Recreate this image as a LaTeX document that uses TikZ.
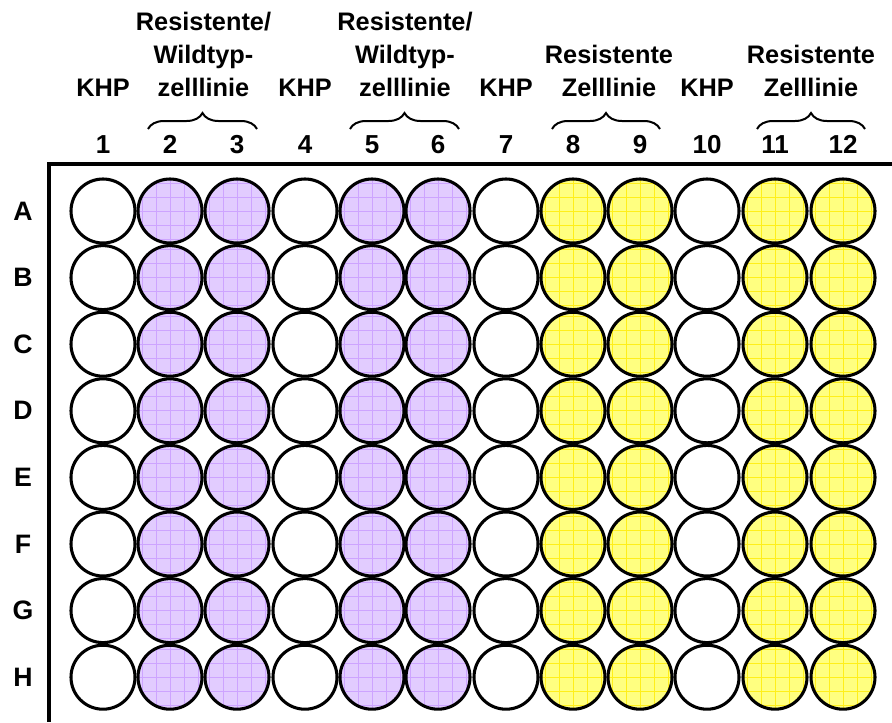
\documentclass[tikz,border=0pt]{standalone}
\usepackage{fontspec}
\setmainfont{Liberation Sans}
\usepackage{xcolor}
\usetikzlibrary{decorations.pathreplacing, positioning}

\definecolor{wellpurple}{HTML}{E2CCFF}
\definecolor{gridpurple}{HTML}{CDA4FF}
\definecolor{wellyellow}{HTML}{FFFF80}
\definecolor{gridyellow}{HTML}{FFEF1A}

\begin{document}
\begin{tikzpicture}[
    x = 0.75pt, y = -0.75pt,
    well/.style  = {circle, draw=black, line width=2.3pt, minimum size=48pt,
                    inner sep=0pt, fill=white},
    pwell/.style = {well, fill=wellpurple,
                    path picture={\draw[gridpurple, line width=0.6pt]
                      (path picture bounding box.south west) grid[step=10.5pt]
                      (path picture bounding box.north east);}},
    ywell/.style = {well, fill=wellyellow,
                    path picture={\draw[gridyellow, line width=0.6pt]
                      (path picture bounding box.south west) grid[step=10.5pt]
                      (path picture bounding box.north east);}},
    hdr/.style   = {font=\fontsize{19}{24.6}\selectfont\bfseries,
                    align=center, inner sep=0pt, anchor=south},
    num/.style   = {font=\fontsize{19.5}{19.5}\selectfont\bfseries,
                    inner sep=0pt, anchor=base},
    rowl/.style  = {font=\fontsize{20}{20}\selectfont\bfseries,
                    inner sep=0pt, anchor=base},
    plate/.style = {line width=2.3pt},
    brc/.style   = {decorate, decoration={brace, amplitude=12pt},
                    line width=1.5pt}
  ]
  \useasboundingbox (0,0) rectangle (892,722);

  % plate frame
  \coordinate (pNE) at (892,164);
  \coordinate (pNW) at (49,164);
  \coordinate (pSW) at (49,722);
  \draw[plate] (pNE) -- (pNW) -- (pSW);

  % column numbers
  \foreach \c [count=\j] in {103,170,237,305,372,438,506,573,640,707,775,843}
    \node[num] (c\j) at (\c,153) {\j};

  % row letters and wells
  \foreach \r [count=\i] in {A,B,C,D,E,F,G,H} {
    \node[rowl] (r\r) at (23,211+66.6*\i-66.6+9) {\r};
    \foreach \c [count=\j] in {103,170,237,305,372,438,506,573,640,707,775,843} {
      \ifnum\j=1 \def\ws{well}\fi
      \ifnum\j=4 \def\ws{well}\fi
      \ifnum\j=7 \def\ws{well}\fi
      \ifnum\j=10 \def\ws{well}\fi
      \ifnum\j=2 \def\ws{pwell}\fi
      \ifnum\j=3 \def\ws{pwell}\fi
      \ifnum\j=5 \def\ws{pwell}\fi
      \ifnum\j=6 \def\ws{pwell}\fi
      \ifnum\j=8 \def\ws{ywell}\fi
      \ifnum\j=9 \def\ws{ywell}\fi
      \ifnum\j=11 \def\ws{ywell}\fi
      \ifnum\j=12 \def\ws{ywell}\fi
      \node[\ws] (\r\j) at (\c,211+66.6*\i-66.6) {};
    }
  }

  % header labels
  \node[hdr] (khp1)  at (103,97) {KHP};
  \node[hdr] (grp23) at (203.5,97) {Resistente/\\Wildtyp-\\zelllinie};
  \node[hdr] (khp4)  at (305,97) {KHP};
  \node[hdr] (grp56) at (405,97) {Resistente/\\Wildtyp-\\zelllinie};
  \node[hdr] (khp7)  at (506,97) {KHP};
  \node[hdr] (grp89) at (609,97) {Resistente\\Zelllinie};
  \node[hdr] (khp10) at (707,97) {KHP};
  \node[hdr] (grp1112) at (811,97) {Resistente\\Zelllinie};

  % braces
  \coordinate (b2) at (148,129);  \coordinate (b3) at (257,129);
  \coordinate (b5) at (350,129);  \coordinate (b6) at (459,129);
  \coordinate (b8) at (552,129);  \coordinate (b9) at (660,129);
  \coordinate (b11) at (757,129); \coordinate (b12) at (865,129);
  \draw[brc] (b2) -- (b3);
  \draw[brc] (b5) -- (b6);
  \draw[brc] (b8) -- (b9);
  \draw[brc] (b11) -- (b12);
\end{tikzpicture}
\end{document}
